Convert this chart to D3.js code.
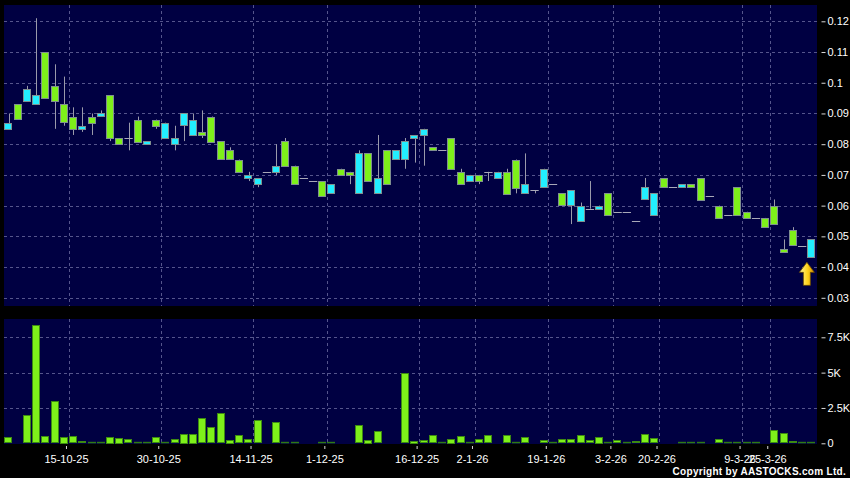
<!DOCTYPE html>
<html><head><meta charset="utf-8">
<script src="https://cdn.jsdelivr.net/npm/d3@7"></script>
<style>
html,body{margin:0;padding:0;background:#000;}
svg{display:block;}
text{font-family:Arial,"Liberation Sans",sans-serif;}
</style></head>
<body>
<svg id="chart" width="850" height="478"></svg>
<script>
// ---- data (one entry per trading session, left to right) ----
const openP  = [0.085,0.093,0.094,0.093,0.110,0.099,0.093,0.089,0.085,0.089,0.089,0.096,0.082,0.082,0.088,0.080,0.088,0.082,0.080,0.086,0.083,0.084,0.089,0.081,0.078,0.075,0.069,0.067,0.071,0.071,0.081,0.073,0.069,0.068,0.068,0.064,0.072,0.071,0.064,0.077,0.064,0.078,0.075,0.075,0.082,0.083,0.079,0.078,0.082,0.071,0.068,0.070,0.071,0.069,0.071,0.075,0.064,0.065,0.066,0.067,0.064,0.060,0.055,0.059,0.059,0.064,0.058,0.058,0.055,0.062,0.057,0.069,0.066,0.066,0.067,0.069,0.063,0.060,0.057,0.066,0.058,0.056,0.056,0.060,0.046,0.052,0.047,0.043];
const highP  = [0.090,0.093,0.099,0.121,0.110,0.106,0.102,0.092,0.092,0.090,0.091,0.096,0.082,0.087,0.089,0.081,0.088,0.087,0.086,0.090,0.090,0.091,0.089,0.081,0.079,0.075,0.071,0.069,0.071,0.080,0.082,0.073,0.069,0.068,0.068,0.067,0.072,0.071,0.078,0.077,0.083,0.078,0.078,0.082,0.083,0.085,0.079,0.078,0.082,0.072,0.070,0.070,0.071,0.071,0.072,0.075,0.077,0.065,0.072,0.067,0.064,0.065,0.061,0.068,0.060,0.064,0.058,0.058,0.055,0.069,0.064,0.069,0.066,0.067,0.067,0.069,0.063,0.060,0.057,0.066,0.058,0.056,0.056,0.062,0.049,0.053,0.047,0.049];
const lowP   = [0.085,0.088,0.094,0.093,0.095,0.085,0.086,0.083,0.084,0.083,0.089,0.081,0.080,0.078,0.081,0.080,0.085,0.082,0.078,0.081,0.083,0.082,0.081,0.075,0.075,0.071,0.068,0.066,0.071,0.070,0.073,0.067,0.069,0.068,0.063,0.064,0.070,0.067,0.064,0.068,0.064,0.067,0.075,0.072,0.074,0.073,0.078,0.078,0.072,0.067,0.068,0.067,0.068,0.069,0.064,0.064,0.064,0.064,0.066,0.067,0.060,0.054,0.055,0.059,0.059,0.057,0.058,0.058,0.055,0.062,0.057,0.066,0.066,0.066,0.066,0.062,0.063,0.056,0.057,0.057,0.056,0.056,0.053,0.054,0.045,0.047,0.047,0.043];
const closeP = [0.087,0.088,0.098,0.096,0.095,0.094,0.087,0.085,0.086,0.087,0.090,0.082,0.080,0.082,0.081,0.081,0.086,0.087,0.082,0.090,0.088,0.083,0.081,0.075,0.075,0.071,0.070,0.069,0.071,0.073,0.073,0.067,0.069,0.068,0.063,0.067,0.070,0.070,0.077,0.068,0.069,0.067,0.078,0.081,0.083,0.085,0.078,0.078,0.072,0.067,0.070,0.068,0.071,0.071,0.064,0.066,0.067,0.065,0.072,0.067,0.060,0.065,0.060,0.059,0.060,0.057,0.058,0.058,0.055,0.066,0.064,0.066,0.066,0.067,0.066,0.062,0.063,0.056,0.057,0.057,0.056,0.056,0.053,0.054,0.045,0.047,0.047,0.049];
const volume = [420,0,2000,8350,520,2970,470,520,160,50,80,470,400,280,20,20,420,100,280,680,680,1770,1150,2140,260,590,300,1630,0,1490,140,120,0,0,120,70,0,0,1270,260,870,0,0,4970,190,210,570,140,330,500,140,280,590,0,570,90,420,0,210,90,280,300,570,210,470,90,230,70,160,660,350,0,0,120,140,120,0,280,20,40,40,40,0,920,710,160,30,120];

const dateTickSlots  = [6,16,26,34,44,50,58,65,70,79,82];
const dateTickLabels = ["15-10-25","30-10-25","14-11-25","1-12-25","16-12-25","2-1-26","19-1-26","3-2-26","20-2-26","9-3-26","25-3-26"];
const priceTicks  = [0.03,0.04,0.05,0.06,0.07,0.08,0.09,0.10,0.11,0.12];
const volumeTicks = [0,2500,5000,7500];

// ---- layout ----
const svg = d3.select("#chart");
const plotL = 4, plotR = 817;
const main = {top:5, bottom:306};
const vol  = {top:319, bottom:444};
const BG = "#000042", GRID = "#55558c";
const UP = "#22eeff", DOWN = "#7ef01a", BORDER = "#7f8f8f";

const n = closeP.length;
const x = d3.scaleBand().domain(d3.range(n)).range([plotL, 816]).paddingInner(0.1).paddingOuter(0.05);
const step = x.step(), bw = x.bandwidth();
const cx = i => x(i) + bw/2;

const y = d3.scaleLinear().domain([0.03, 0.12]).range([297.8, 21.3]);
const yv = d3.scaleLinear().domain([0, 7500]).range([443.3, 337.3]);

// panels
svg.append("rect").attr("x",plotL).attr("y",main.top).attr("width",plotR-plotL).attr("height",main.bottom-main.top).attr("fill",BG);
svg.append("rect").attr("x",plotL).attr("y",vol.top).attr("width",plotR-plotL).attr("height",vol.bottom-vol.top).attr("fill",BG);

// grids
const grid = svg.append("g").attr("stroke",GRID).attr("stroke-width",1).attr("stroke-dasharray","3,3").attr("fill","none");
dateTickSlots.forEach(s=>{
  const gx = Math.round(cx(s) + step/2) + 0.5;
  grid.append("line").attr("x1",gx).attr("x2",gx).attr("y1",main.top).attr("y2",main.bottom);
  grid.append("line").attr("x1",gx).attr("x2",gx).attr("y1",vol.top).attr("y2",vol.bottom);
});
priceTicks.forEach(p=>{
  const gy = Math.round(y(p)) + 0.5;
  grid.append("line").attr("x1",plotL).attr("x2",plotR).attr("y1",gy).attr("y2",gy);
});
volumeTicks.filter(v=>v>0).forEach(v=>{
  const gy = Math.round(yv(v)) + 0.5;
  grid.append("line").attr("x1",plotL).attr("x2",plotR).attr("y1",gy).attr("y2",gy);
});

// candles
const cg = svg.append("g");
d3.range(n).forEach(i=>{
  const o = openP[i], c = closeP[i], h = highP[i], l = lowP[i];
  const xc = Math.round(cx(i)) + 0.5;
  if (h > l) {
    cg.append("line").attr("x1",xc).attr("x2",xc).attr("y1",y(h)).attr("y2",y(l))
      .attr("stroke","#9a9aaa").attr("stroke-width",1);
  }
  if (o === c) {
    cg.append("line").attr("x1",x(i)).attr("x2",x(i)+bw).attr("y1",Math.round(y(o))+0.5).attr("y2",Math.round(y(o))+0.5)
      .attr("stroke","#a8a8b8").attr("stroke-width",1);
  } else {
    const top = y(Math.max(o,c)), bot = y(Math.min(o,c));
    cg.append("rect").attr("x",Math.round(x(i))+0.5).attr("y",Math.round(top)+0.5)
      .attr("width",Math.round(bw)-1).attr("height",Math.max(1,Math.round(bot-top)))
      .attr("fill", c > o ? UP : DOWN).attr("stroke",BORDER).attr("stroke-width",1);
  }
});

// volume bars
const vg = svg.append("g");
d3.range(n).forEach(i=>{
  if (volume[i] <= 0) return;
  const top = yv(volume[i]), base = yv(0);
  const hgt = base - top;
  if (hgt < 2) {
    vg.append("rect").attr("x",Math.round(x(i))).attr("y",base-1.5).attr("width",Math.round(bw)).attr("height",1.5).attr("fill","#2f7a14");
  } else {
    vg.append("rect").attr("x",Math.round(x(i))+0.5).attr("y",Math.round(top)+0.5)
      .attr("width",Math.round(bw)-1).attr("height",Math.round(hgt)-1)
      .attr("fill",DOWN).attr("stroke","#3d8a12").attr("stroke-width",1);
  }
});

// latest-session arrow
const last = n-1;
const ax = cx(last) - 4.5, ay = y(lowP[last]) + 4.5;
const defs = svg.append("defs");
const grad = defs.append("linearGradient").attr("id","arrowGrad").attr("x1","0").attr("x2","1").attr("y1","0").attr("y2","0");
grad.append("stop").attr("offset","0%").attr("stop-color","#fff59a");
grad.append("stop").attr("offset","55%").attr("stop-color","#ffd21a");
grad.append("stop").attr("offset","100%").attr("stop-color","#d08a00");
svg.append("path")
  .attr("d",`M${ax},${ay} L${ax+7.5},${ay+10} L${ax+3.5},${ay+10} L${ax+3.5},${ay+23} L${ax-3.5},${ay+23} L${ax-3.5},${ay+10} L${ax-7.5},${ay+10} Z`)
  .attr("fill","url(#arrowGrad)").attr("stroke","#6b4a00").attr("stroke-width",0.8);

// axes
function styleAxis(g){
  g.select(".domain").remove();
  g.selectAll(".tick line").attr("stroke","#d8d8d8");
  g.selectAll(".tick text").attr("fill","#ffffff").style("font-size","11px").style("font-family","Arial, 'Liberation Sans', sans-serif");
}
const priceAxis = d3.axisRight(y).tickValues(priceTicks).tickSize(4).tickPadding(2)
  .tickFormat(p => String(+p.toFixed(2)));
svg.append("g").attr("transform",`translate(${821.5},0)`).call(priceAxis).call(styleAxis);

const volAxis = d3.axisRight(yv).tickValues(volumeTicks).tickSize(4).tickPadding(2)
  .tickFormat(v => v === 0 ? "0" : (v/1000) + "K");
svg.append("g").attr("transform",`translate(${821.5},0)`).call(volAxis).call(styleAxis);

const dateAxis = d3.axisBottom(x).tickValues(dateTickSlots).tickSize(3).tickPadding(6)
  .tickFormat((s) => dateTickLabels[dateTickSlots.indexOf(s)]);
svg.append("g").attr("transform",`translate(2.5,${vol.bottom+2})`).call(dateAxis).call(styleAxis);

// copyright
svg.append("text").attr("x",846).attr("y",475).attr("text-anchor","end")
  .attr("fill","#ffffff").style("font-size","10px").style("font-weight","bold")
  .style("letter-spacing","0.3px").text("Copyright by AASTOCKS.com Ltd.");
</script>
</body></html>
